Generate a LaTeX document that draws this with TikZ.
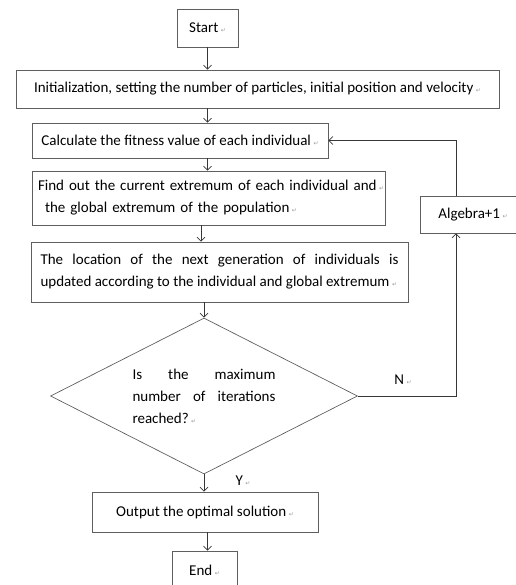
\documentclass[tikz,border=0pt]{standalone}
\usepackage{fontspec}
\setmainfont{Carlito}
\newfontfamily\markfont{DejaVu Sans}
\usepackage{xcolor}
\usetikzlibrary{arrows.meta,shapes.geometric}

% small paragraph mark after each text
\newcommand{\pmark}{\,{\markfont\fontsize{6}{6}\selectfont\color{black!40}↵}}

\begin{document}
\begin{tikzpicture}[x=1pt, y=-1pt,
        box/.style={draw=boxcolor, line width=0.7pt, inner sep=0pt, text=black},
        flow/.style={-{Straight Barb[length=4pt, width=8pt]}, line width=0.7pt, linecolor}]
        % Define colors
        \definecolor{boxcolor}{RGB}{95, 95, 95}    % Box border grey
        \definecolor{linecolor}{RGB}{55, 55, 55}   % Connector grey

        \fontsize{15}{22}\selectfont
        \useasboundingbox (0,0) rectangle (515,585);

        % Draw the boxes of the main flow
        \node[box, minimum width=61, minimum height=38] (start) at (207.5,28) {Start\pmark};
        \node[box, minimum width=483, minimum height=38] (init) at (257.5,89) {Initialization, setting the number of particles, initial position and velocity\pmark};
        \node[box, minimum width=296, minimum height=35] (calc) at (180,140.5) {Calculate the fitness value of each individual\pmark};
        \node[box, minimum width=353, minimum height=54, text width=353, align=left] (find) at (208.5,198)
            {\hspace*{6pt}Find out the current extremum of each individual and\pmark\\\hspace*{13pt}the global extremum of the population\pmark};
        \node[box, minimum width=377, minimum height=60, text width=358, align=justify] (locate) at (219.5,272)
            {The location of the next generation of individuals is\linebreak updated according to the individual and global extremum\pmark};

        % Draw the decision diamond
        \node[box, diamond, aspect=1.97, minimum width=307, minimum height=156, text width=143, align=justify] (decide) at (204,396)
            {Is the maximum\linebreak number of iterations\linebreak reached?\pmark};

        % Draw the loop box and the end boxes
        \node[box, minimum width=106, minimum height=37] (algebra) at (473,214.5) {Algebra+1\pmark};
        \node[box, minimum width=226, minimum height=40] (output) at (205,512) {Output the optimal solution\pmark};
        \node[box, minimum width=65, minimum height=38] (end) at (204.5,570) {End\pmark};
        \coordinate (loop) at (456,214.5);

        % Draw arrows for the main flow
        \draw[flow] (start.south) -- (start.south |- init.north);
        \draw[flow] (init.south -| start.south) -- (calc.north -| start.south);
        \draw[flow] (calc.south -| start.south) -- (find.north -| start.south);
        \draw[flow] ([xshift=-3pt]find.south -| decide.north) -- ([xshift=-3pt]locate.north -| decide.north);
        \draw[flow] (locate.south -| decide.north) -- (decide.north);
        \draw[flow] (decide.south) -- (decide.south |- output.north);
        \draw[flow] (output.south -| start.south) -- (end.north -| start.south);

        % Arrows of the loop back
        \draw[flow] (decide.east) -- (decide.east -| loop) -- (algebra.south -| loop);
        \draw[flow] (algebra.north -| loop) |- (calc.east);

        % Labels of the decision
        \node[inner sep=0pt] (no) at (403,380) {N\pmark};
        \node[inner sep=0pt] (yes) at (243,481) {Y\pmark};
\end{tikzpicture}
\end{document}
